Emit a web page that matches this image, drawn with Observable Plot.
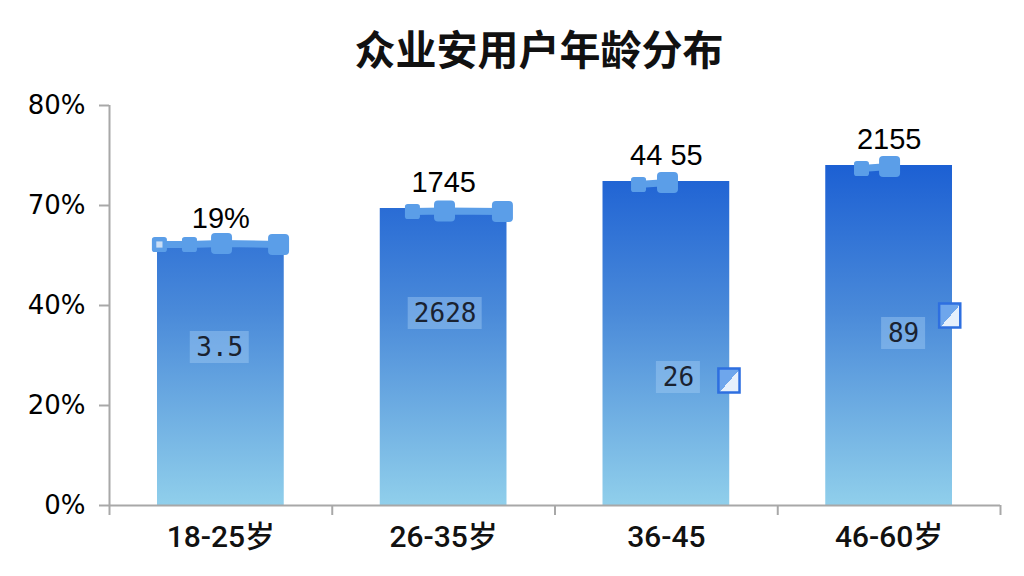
<!DOCTYPE html>
<html><head><meta charset="utf-8">
<script src="https://cdn.jsdelivr.net/npm/d3@7"></script>
<script src="https://cdn.jsdelivr.net/npm/@observablehq/plot@0.6"></script>
<style>
body{margin:0;background:#fff;width:1024px;height:576px;overflow:hidden}
#title{height:66px;padding-top:14px;line-height:66px;text-align:center;padding-left:54px;font-family:"Noto Sans CJK SC",sans-serif;font-weight:700;font-size:41px;color:#111}
#chart svg{display:block}
</style></head><body>
<div id="title">众业安用户年龄分布</div>
<div id="chart"></div>
<script>
// ---- data ----
const categories = ["18-25岁", "26-35岁", "36-45", "46-60岁"];
const values = [52.2, 59.4, 64.8, 68.0];
const valueLabels = ["19%", "1745", "44 55", "2155"];
const yTicks = [0, 20, 40, 60, 80];
const yTickLabels = ["0%", "20%", "40%", "70%", "80%"];

const innerLabels = ["3.5", "2628", "26", "89"];
const innerGroup = [0, 1, 2, 3];
const innerPos = [0.495, 0.507, 0.554, 0.565];
const innerVal = [31.6, 38.4, 25.6, 34.4];

const flagGroup = [2, 3];
const flagPos = [0.781, 0.772];
const flagVal = [25.0, 38.0];

const markerGroup = [0, 0, 0, 0, 1, 1, 1, 2, 2, 3, 3];
const markerPos = [0.224, 0.359, 0.503, 0.759, 0.360, 0.504, 0.764, 0.375, 0.505, 0.376, 0.502];
const markerVal = [52.2, 52.2, 52.4, 52.2, 58.8, 58.9, 58.8, 64.2, 64.6, 67.4, 67.8];
const markerKind = ["small", "small", "large", "large", "small", "large", "large", "small", "large", "small", "large"];

// ---- tables built from the arrays ----
const bars = categories.map((c, i) => ({i, c, v: values[i], label: valueLabels[i]}));
const inner = innerLabels.map((t, k) => ({t, x: innerGroup[k] + innerPos[k], y: innerVal[k]}));
const flags = flagGroup.map((g, k) => ({x: g + flagPos[k], y: flagVal[k]}));
const markers = markerGroup.map((g, k) => ({g, x: g + markerPos[k], y: markerVal[k], kind: markerKind[k]}));

const PAD = 0.2155;
const BLUE = "#5b9ee8";
const AXIS = "#a8a8a8";

const roundSquare = {
  draw(ctx, size) {
    const h = Math.sqrt(size / Math.PI), c = h * 0.38;
    ctx.moveTo(-h + c, -h); ctx.lineTo(h - c, -h); ctx.arcTo(h, -h, h, -h + c, c);
    ctx.lineTo(h, h - c); ctx.arcTo(h, h, h - c, h, c);
    ctx.lineTo(-h + c, h); ctx.arcTo(-h, h, -h, h - c, c);
    ctx.lineTo(-h, -h + c); ctx.arcTo(-h, -h, -h + c, -h, c); ctx.closePath();
  }
};
const tallRect = {
  draw(ctx, size) {
    const h = Math.sqrt(size / Math.PI), w = h * 0.88;
    ctx.moveTo(-w, -h); ctx.lineTo(w, -h); ctx.lineTo(w, h); ctx.lineTo(-w, h); ctx.closePath();
  }
};

function defs(index, scales) {
  const d = d3.create("svg:defs");
  const g = d.append("linearGradient").attr("id", "barGrad").attr("gradientUnits", "userSpaceOnUse")
    .attr("x1", 0).attr("x2", 0).attr("y1", scales.y(70)).attr("y2", scales.y(0));
  g.append("stop").attr("offset", "0%").attr("stop-color", "#195dd3");
  g.append("stop").attr("offset", "45%").attr("stop-color", "#4a8ad9");
  g.append("stop").attr("offset", "100%").attr("stop-color", "#90cfeb");
  const f = d.append("linearGradient").attr("id", "flagGrad").attr("x1", 0).attr("y1", 0).attr("x2", 1).attr("y2", 1);
  f.append("stop").attr("offset", "0%").attr("stop-color", "#6ea6ec");
  f.append("stop").attr("offset", "52%").attr("stop-color", "#6ea6ec");
  f.append("stop").attr("offset", "52%").attr("stop-color", "#e6f0fc");
  f.append("stop").attr("offset", "100%").attr("stop-color", "#e6f0fc");
  return d.node();
}

function boxes(index, scales) {
  const g = d3.create("svg:g");
  for (const d of inner) {
    const cx = scales.x(d.x), cy = scales.y(d.y);
    const w = d.t.length * 15 + 14, h = 32;
    g.append("rect").attr("x", cx - w / 2).attr("y", cy - h / 2).attr("width", w).attr("height", h)
      .attr("fill", "#a6cff5").attr("fill-opacity", 0.42);
  }
  return g.node();
}

const chart = Plot.plot({
  width: 1024,
  height: 496,
  marginLeft: 109,
  marginRight: 24,
  marginTop: 25,
  marginBottom: 71,
  style: {fontFamily: "'Liberation Sans','Noto Sans CJK SC',sans-serif", background: "#fff", color: "#111"},
  x: {type: "linear", domain: [0, 4], axis: null, label: null},
  y: {domain: [0, 80], axis: null, label: null},
  marks: [
    defs,
    Plot.rect(bars, {x1: d => d.i + PAD, x2: d => d.i + 1 - PAD, y1: 0, y2: "v", fill: "url(#barGrad)"}),
    boxes,
    Plot.text(inner, {x: "x", y: "y", text: "t", fontFamily: "'DejaVu Sans Mono',monospace", fontSize: 26, fill: "#1a2230"}),
    Plot.dot(flags, {x: "x", y: "y", r: 12, symbol: tallRect, fill: "url(#flagGrad)", stroke: "#2e6fe0", strokeWidth: 2.5}),
    Plot.line(markers, {x: "x", y: "y", z: "g", stroke: BLUE, strokeWidth: 7}),
    Plot.dot(markers.filter(d => d.kind === "small"), {x: "x", y: "y", r: 7.5, symbol: roundSquare, fill: BLUE}),
    Plot.dot(markers.filter(d => d.kind === "large"), {x: "x", y: "y", r: 10.5, symbol: roundSquare, fill: BLUE}),
    Plot.dot(markers.slice(0, 1), {x: "x", y: "y", r: 3.5, symbol: "square", fill: "#c9def6"}),
    Plot.text(bars, {x: d => d.i + 0.5, y: "v", text: "label", dy: -26, fontSize: 29, fill: "#000"}),
    Plot.ruleX([0], {y1: 0, y2: 80, stroke: AXIS, strokeWidth: 2}),
    Plot.ruleY([0], {x1: 0, x2: 4, stroke: AXIS, strokeWidth: 2}),
    Plot.axisY({ticks: yTicks, tickFormat: d => yTickLabels[yTicks.indexOf(d)], tickSize: 10, tickPadding: 14,
      stroke: AXIS, strokeWidth: 2, fill: "#000", fontSize: 26, fontFamily: "'DejaVu Sans',sans-serif", label: null}),
    Plot.axisX({ticks: [0, 1, 2, 3, 4], tickFormat: () => "", tickSize: 10, stroke: AXIS, strokeWidth: 2, label: null}),
    Plot.axisX({ticks: categories.map((c, i) => i + 0.5), tickFormat: d => categories[Math.floor(d)], tickSize: 0, tickPadding: 20,
      fontSize: 30, fontWeight: 500, fill: "#111", fontFamily: "Roboto,'Noto Sans CJK SC',sans-serif", label: null})
  ]
});
document.getElementById("chart").appendChild(chart);
</script>
</body></html>
